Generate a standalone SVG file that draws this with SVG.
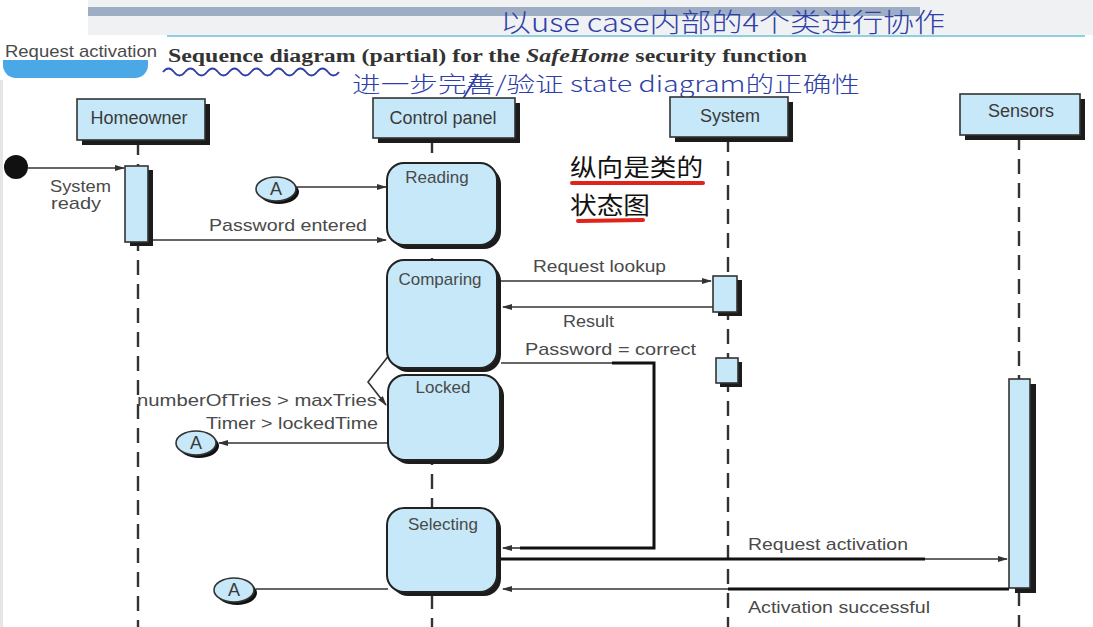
<svg xmlns="http://www.w3.org/2000/svg" width="1093" height="627" viewBox="0 0 1093 627">
<defs>
<style>
.lbl{font-family:"Liberation Sans","DejaVu Sans",sans-serif;font-size:17px;fill:#4a4a4a}
.hdr{font-family:"Liberation Sans","DejaVu Sans",sans-serif;font-size:18px;fill:#3a3a3a;text-anchor:middle}
.box{fill:#c6e8f8;stroke:#333;stroke-width:1.6}
.shd{fill:#1c1c1c}
.st{fill:#c6e8f8;stroke:#222;stroke-width:2}
.life{stroke:#333;stroke-width:2.4;stroke-dasharray:15 9;fill:none}
.msg{stroke:#333;stroke-width:1.6;fill:none}
.thick{stroke:#111;stroke-width:3;fill:none}
.hand{font-family:"Noto Sans CJK SC",sans-serif;font-weight:300;fill:#2f3fa8}
.cn{font-family:"Noto Sans CJK SC",sans-serif;font-size:24px;fill:#111}
</style>
<marker id="ah" markerWidth="10" markerHeight="7" refX="9" refY="3.5" orient="auto" markerUnits="userSpaceOnUse"><path d="M0,0.5 L10,3.5 L0,6.5 z" fill="#333"/></marker>
</defs>
<rect width="1093" height="627" fill="#fff"/>
<!-- top decoration -->
<rect x="88" y="0" width="1005" height="35" fill="#f0f1f3"/>
<rect x="88" y="7" width="832" height="9" fill="#9cadc4"/>
<line x1="167" y1="36" x2="1085" y2="36" stroke="#8fd0e0" stroke-width="2"/>
<rect x="0" y="80" width="3" height="547" fill="#e6e6e6"/>
<!-- tab -->
<rect x="3" y="48" width="145" height="30" rx="13" fill="#4aa8e6"/>
<rect x="0" y="36" width="166" height="24" fill="#fff"/>
<text x="5" y="57" class="lbl" fill="#444" textLength="152" lengthAdjust="spacingAndGlyphs">Request activation</text>
<text x="168" y="62" font-family="Liberation Serif,serif" font-weight="bold" font-size="18" fill="#333" textLength="639" lengthAdjust="spacingAndGlyphs">Sequence diagram (partial) for the <tspan font-style="italic">SafeHome</tspan> security function</text>
<!-- handwriting -->
<text x="500" y="32" class="hand" font-size="26" textLength="445" lengthAdjust="spacingAndGlyphs">以use case内部的4个类进行协作</text>
<text x="352" y="92" class="hand" font-size="22" textLength="508" lengthAdjust="spacingAndGlyphs">进一步完善/验证 state diagram的正确性</text>
<path d="M163,72 q5.5,-7 11,0 t11,0 t11,0 t11,0 t11,0 t11,0 t11,0 t11,0 t11,0 t11,0 t11,0 t11,0 t11,0 t11,0 t11,0 t11,0" fill="none" stroke="#2f3fa8" stroke-width="1.8"/>
<line x1="478" y1="74" x2="452" y2="117" stroke="#2f3fa8" stroke-width="1.8"/>
<!-- Chinese note -->
<text x="570" y="176" class="cn" textLength="133" lengthAdjust="spacingAndGlyphs">纵向是类的</text>
<text x="570" y="214" class="cn" textLength="80" lengthAdjust="spacingAndGlyphs">状态图</text>
<path d="M572,183 L703,183" stroke="#e0241b" stroke-width="4" stroke-linecap="round"/>
<path d="M578,221 L643,220" stroke="#e0241b" stroke-width="4" stroke-linecap="round"/>
<!-- lifelines -->
<g id="lifelines">
<line class="life" x1="138" y1="140" x2="138" y2="627"/>
<line class="life" x1="432" y1="138" x2="432" y2="627"/>
<line class="life" x1="728" y1="137" x2="728" y2="627"/>
<line class="life" x1="1019" y1="135" x2="1019" y2="627"/>
</g>
<!-- connectors -->
<g id="connectors">
<line class="msg" x1="28" y1="168" x2="124" y2="168" marker-end="url(#ah)"/>
<line class="msg" x1="153" y1="240" x2="386" y2="240" marker-end="url(#ah)"/>
<line class="msg" x1="297" y1="187" x2="386" y2="187" marker-end="url(#ah)"/>
<line class="msg" x1="501" y1="281" x2="711" y2="281" marker-end="url(#ah)"/>
<line class="msg" x1="713" y1="307" x2="503" y2="307" marker-end="url(#ah)"/>
<path class="msg" d="M501,363 L612,363"/>
<path class="thick" d="M612,363 L654,363 L654,548 L520,548"/>
<line class="msg" x1="520" y1="548" x2="503" y2="548" marker-end="url(#ah)"/>
<path class="msg" d="M390,354 L368,382 L386,405" marker-end="url(#ah)"/>
<line class="msg" x1="388" y1="443" x2="219" y2="443" marker-end="url(#ah)"/>
<path class="thick" d="M501,559 L925,559"/>
<line class="msg" x1="925" y1="559" x2="1007" y2="559" marker-end="url(#ah)"/>
<path class="thick" d="M1009,589 L728,589"/>
<line class="msg" x1="728" y1="589" x2="503" y2="589" marker-end="url(#ah)"/>
<line class="msg" x1="256" y1="589" x2="388" y2="589"/>
</g>
<!-- labels -->
<g id="labels">
<text class="lbl" x="50" y="192" textLength="61" lengthAdjust="spacingAndGlyphs">System</text>
<text class="lbl" x="51" y="209" textLength="50" lengthAdjust="spacingAndGlyphs">ready</text>
<text class="lbl" x="209" y="231" textLength="158" lengthAdjust="spacingAndGlyphs">Password entered</text>
<text class="lbl" x="533" y="272" textLength="133" lengthAdjust="spacingAndGlyphs">Request lookup</text>
<text class="lbl" x="563" y="327" textLength="51" lengthAdjust="spacingAndGlyphs">Result</text>
<text class="lbl" x="525" y="355" textLength="171" lengthAdjust="spacingAndGlyphs">Password = correct</text>
<text class="lbl" x="137" y="406" textLength="240" lengthAdjust="spacingAndGlyphs">numberOfTries &gt; maxTries</text>
<text class="lbl" x="206" y="429" textLength="172" lengthAdjust="spacingAndGlyphs">Timer &gt; lockedTime</text>
<text class="lbl" x="748" y="550" textLength="160" lengthAdjust="spacingAndGlyphs">Request activation</text>
<text class="lbl" x="748" y="613" textLength="182" lengthAdjust="spacingAndGlyphs">Activation successful</text>
</g>
<!-- initial state -->
<g id="start"><circle cx="16" cy="167" r="12" fill="#111"/></g>
<!-- headers -->
<g id="homeowner">
<rect class="shd" x="82" y="104" width="128" height="41"/>
<rect class="box" x="77" y="99" width="128" height="41"/>
<text class="hdr" x="139" y="124">Homeowner</text>
</g>
<g id="controlpanel">
<rect class="shd" x="378" y="103" width="142" height="40"/>
<rect class="box" x="373" y="98" width="142" height="40"/>
<text class="hdr" x="443" y="124">Control panel</text>
</g>
<g id="system">
<rect class="shd" x="675" y="102" width="118" height="40"/>
<rect class="box" x="670" y="97" width="118" height="40"/>
<text class="hdr" x="730" y="122">System</text>
</g>
<g id="sensors">
<rect class="shd" x="965" y="99" width="120" height="41"/>
<rect class="box" x="960" y="94" width="120" height="41"/>
<text class="hdr" x="1021" y="117">Sensors</text>
</g>
<!-- activations -->
<g id="act-homeowner">
<rect class="shd" x="130" y="170" width="23" height="76"/>
<rect class="box" x="125" y="166" width="23" height="76"/>
</g>
<g id="act-system-1">
<rect class="shd" x="718" y="280" width="24" height="36"/>
<rect class="box" x="713" y="276" width="24" height="36"/>
</g>
<g id="act-system-2">
<rect class="shd" x="720" y="362" width="22" height="25"/>
<rect class="box" x="716" y="358" width="22" height="25"/>
</g>
<g id="act-sensors">
<rect class="shd" x="1015" y="384" width="21" height="209"/>
<rect class="box" x="1009" y="379" width="21" height="209"/>
</g>
<!-- states -->
<g id="reading">
<rect class="shd" x="391" y="167" width="110" height="82" rx="17"/>
<rect class="st" x="387" y="163" width="110" height="82" rx="17"/>
<text class="lbl" x="437" y="183" text-anchor="middle" font-size="18" fill="#3d4a5a">Reading</text>
</g>
<g id="comparing">
<rect class="shd" x="391" y="264" width="110" height="108" rx="17"/>
<rect class="st" x="387" y="260" width="110" height="108" rx="17"/>
<text class="lbl" x="440" y="285" text-anchor="middle" font-size="18" fill="#3d4a5a">Comparing</text>
</g>
<g id="locked">
<rect class="shd" x="392" y="379" width="112" height="85" rx="17"/>
<rect class="st" x="388" y="375" width="112" height="85" rx="17"/>
<text class="lbl" x="443" y="393" text-anchor="middle" font-size="18" fill="#3d4a5a">Locked</text>
</g>
<g id="selecting">
<rect class="shd" x="391" y="512" width="110" height="84" rx="17"/>
<rect class="st" x="387" y="508" width="110" height="84" rx="17"/>
<text class="lbl" x="443" y="530" text-anchor="middle" font-size="18" fill="#3d4a5a">Selecting</text>
</g>
<!-- A connectors -->
<g id="a1">
<ellipse cx="279" cy="192" rx="20" ry="12" fill="#111"/>
<ellipse class="box" cx="276" cy="189" rx="20" ry="12"/>
<text class="hdr" x="276" y="195" font-size="16">A</text>
</g>
<g id="a2">
<ellipse cx="199" cy="446" rx="20" ry="12" fill="#111"/>
<ellipse class="box" cx="196" cy="443" rx="20" ry="12"/>
<text class="hdr" x="196" y="449" font-size="16">A</text>
</g>
<g id="a3">
<ellipse cx="237" cy="593" rx="20" ry="12" fill="#111"/>
<ellipse class="box" cx="234" cy="590" rx="20" ry="12"/>
<text class="hdr" x="234" y="596" font-size="16">A</text>
</g>
</svg>
